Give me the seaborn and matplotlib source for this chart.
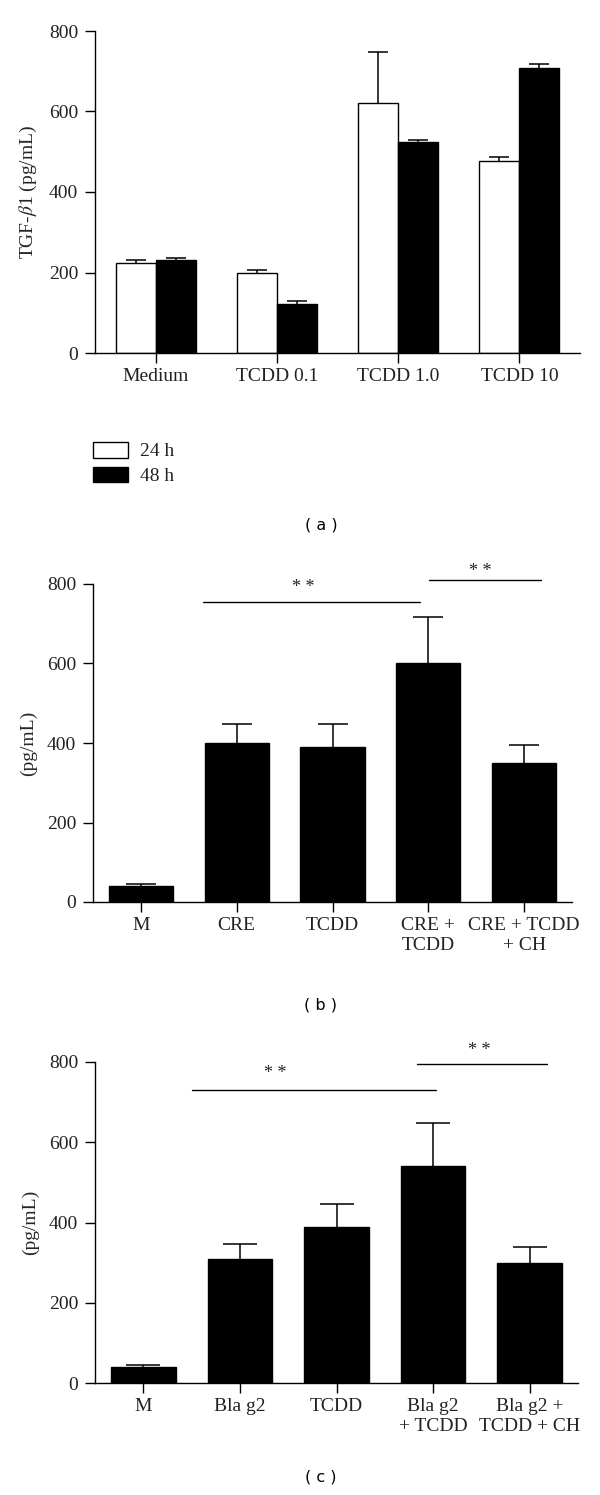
import numpy as np
import pandas as pd
import matplotlib
matplotlib.use('Agg')
import matplotlib.pyplot as plt
import seaborn as sns

# Panel (a): TGF-beta1, two time points
a_groups = ['Medium', 'TCDD 0.1', 'TCDD 1.0', 'TCDD 10']
a_times = ['24 h', '48 h']
a_24h = [224, 198, 622, 478]
a_24h_sem = [6, 7, 126, 9]
a_48h = [232, 121, 525, 708]
a_48h_sem = [4, 8, 3, 11]

# Panel (b): CRE
b_groups = ['M', 'CRE', 'TCDD', 'CRE +\nTCDD', 'CRE + TCDD\n+ CH']
b_values = [40, 400, 390, 600, 350]
b_sem = [5, 47, 57, 118, 44]

# Panel (c): Bla g2
c_groups = ['M', 'Bla g2', 'TCDD', 'Bla g2\n+ TCDD', 'Bla g2 +\nTCDD + CH']
c_values = [40, 310, 390, 540, 300]
c_sem = [4, 36, 57, 107, 38]

sns.set_theme(style='ticks')
plt.rcParams['font.family'] = ['Liberation Serif', 'DejaVu Serif']
plt.rcParams['mathtext.fontset'] = 'stix'
plt.rcParams['axes.linewidth'] = 1.0
plt.rcParams['xtick.major.width'] = 1.0
plt.rcParams['ytick.major.width'] = 1.0
plt.rcParams['xtick.major.size'] = 7
plt.rcParams['ytick.major.size'] = 7
plt.rcParams['axes.edgecolor'] = 'black'
plt.rcParams['text.color'] = '#222222'

FS = 14
W, H = 600, 1495
fig = plt.figure(figsize=(6, 14.95), dpi=100)


def px_axes(left, right, top, bottom):
    return fig.add_axes([left / W, 1 - bottom / H, (right - left) / W, (bottom - top) / H])


def style_axes(ax, n, ylabel):
    ax.set_ylim(0, 800)
    ax.set_yticks([0, 200, 400, 600, 800])
    ax.set_xlim(-0.5, n - 0.5)
    ax.set_xlabel('')
    ax.set_ylabel(ylabel, fontsize=FS, labelpad=7)
    ax.tick_params(axis='both', labelsize=FS, colors='black', labelcolor='#222222')
    ax.tick_params(axis='x', pad=4)
    ax.tick_params(axis='y', pad=5)
    sns.despine(ax=ax)


def add_errors(ax, container, values, sems, capsize):
    # one-sided (upper) SEM bars, centred on each bar
    xs = [p.get_x() + p.get_width() / 2 for p in container]
    _, caps, _ = ax.errorbar(xs, values, yerr=[np.zeros(len(sems)), sems], fmt='none',
                             ecolor='black', elinewidth=1.1, capsize=capsize, capthick=1.1,
                             zorder=3)
    caps[0].set_visible(False)


def add_sig(ax, x0, x1, y, tx, ty):
    ax.plot([x0, x1], [y, y], color='black', lw=1.0, clip_on=False)
    ax.text(tx, ty, '* *', ha='center', va='center', fontsize=13, clip_on=False)


# ---- Panel (a)
df_a = pd.DataFrame({
    'group': a_groups * 2,
    'time': [a_times[0]] * 4 + [a_times[1]] * 4,
    'value': a_24h + a_48h,
})
ax_a = px_axes(95, 580, 31, 353)
sns.barplot(data=df_a, x='group', y='value', hue='time', order=a_groups, hue_order=a_times,
            palette={'24 h': 'white', '48 h': 'black'}, edgecolor='black', linewidth=1.0,
            width=0.66, saturation=1, errorbar=None, ax=ax_a)
add_errors(ax_a, ax_a.containers[0], a_24h, a_24h_sem, 7.5)
add_errors(ax_a, ax_a.containers[1], a_48h, a_48h_sem, 7.5)
style_axes(ax_a, len(a_groups), r'TGF-$\beta$1 (pg/mL)')
ax_a.legend(loc='upper left', bbox_to_anchor=(93 / W, 1 - 442 / H), bbox_transform=fig.transFigure,
            frameon=False, fontsize=FS, borderpad=0, borderaxespad=0,
            handlelength=1.8, handleheight=0.85, handletextpad=0.6, labelspacing=0.33)

# ---- Panel (b)
df_b = pd.DataFrame({'group': b_groups, 'value': b_values})
ax_b = px_axes(93, 572, 584, 902)
sns.barplot(data=df_b, x='group', y='value', order=b_groups, color='black', edgecolor='black',
            width=0.67, saturation=1, errorbar=None, ax=ax_b)
add_errors(ax_b, ax_b.containers[0], b_values, b_sem, 11)
style_axes(ax_b, len(b_groups), '(pg/mL)')
add_sig(ax_b, 0.65, 2.91, 755, 1.69, 790)
add_sig(ax_b, 3.01, 4.18, 811, 3.54, 832)

# ---- Panel (c)
df_c = pd.DataFrame({'group': c_groups, 'value': c_values})
ax_c = px_axes(95, 578, 1062, 1383)
sns.barplot(data=df_c, x='group', y='value', order=c_groups, color='black', edgecolor='black',
            width=0.67, saturation=1, errorbar=None, ax=ax_c)
add_errors(ax_c, ax_c.containers[0], c_values, c_sem, 12)
style_axes(ax_c, len(c_groups), '(pg/mL)')
add_sig(ax_c, 0.50, 3.03, 731, 1.37, 771)
add_sig(ax_c, 2.83, 4.18, 794, 3.48, 829)

# panel captions
for label, ypx in [('( a )', 525), ('( b )', 1005), ('( c )', 1477)]:
    fig.text(321 / W, 1 - ypx / H, label, ha='center', va='center',
             fontsize=11.5, family=['DejaVu Sans'], color='black')

fig.savefig('out.png', dpi=100)
